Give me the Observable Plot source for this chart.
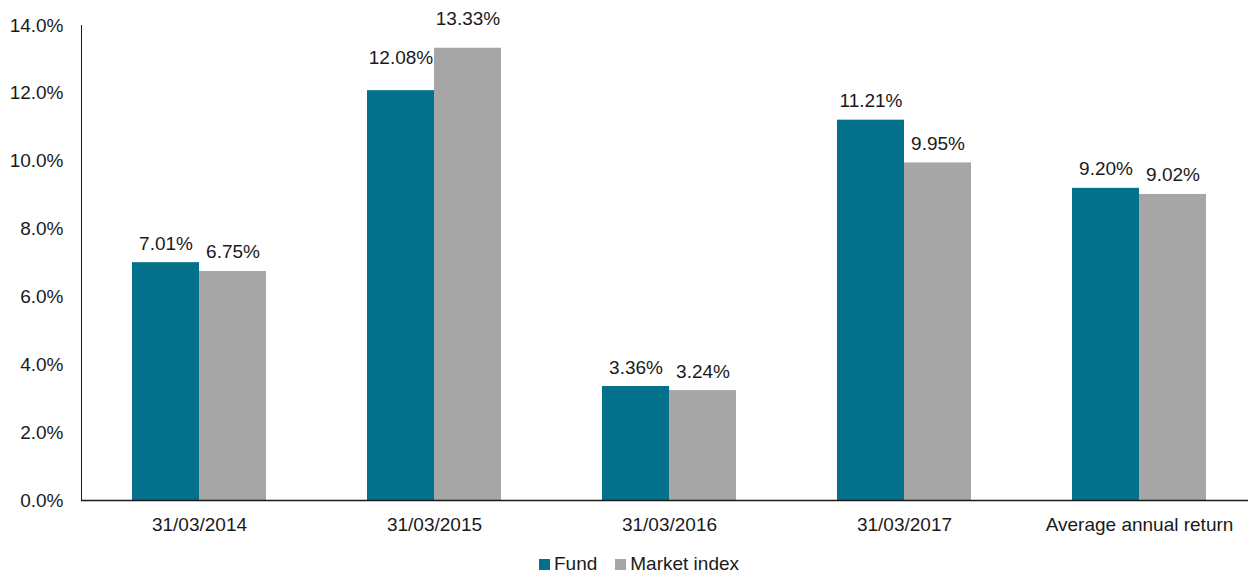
<!DOCTYPE html>
<html>
<head>
<meta charset="utf-8">
<script src="https://cdn.jsdelivr.net/npm/d3@7"></script>
<script src="https://cdn.jsdelivr.net/npm/@observablehq/plot@0.6"></script>
<style>
  body { margin: 0; background: #fff; font-family: "Liberation Sans", Arial, sans-serif; }
  #legend { display: flex; justify-content: center; align-items: center; height: 28px; padding-top: 5px; font-size: 19px; color: #1a1a1a; padding-left: 30px; }
  .item { display: flex; align-items: center; margin: 0 9px; }
  .sw { width: 11px; height: 11px; margin-right: 4px; }
</style>
</head>
<body>
<div id="chart"></div>
<script>
const categories = ["31/03/2014", "31/03/2015", "31/03/2016", "31/03/2017", "Average annual return"];
const series = ["Fund", "Market index"];
const fundValues = [7.01, 12.08, 3.36, 11.21, 9.20];
const marketValues = [6.75, 13.33, 3.24, 9.95, 9.02];
const yTicks = [0, 2, 4, 6, 8, 10, 12, 14];
const colors = ["#03718A", "#A6A6A6"];

const fund = categories.map((c, i) => ({category: c, value: fundValues[i]}));
const market = categories.map((c, i) => ({category: c, value: marketValues[i]}));
const fmt = d => d.toFixed(2) + "%";
const crowded = d => d.category === categories[1];

const plot = Plot.plot({
  width: 1248,
  height: 545,
  marginLeft: 81,
  marginRight: 0,
  marginTop: 25,
  marginBottom: 45,
  style: {fontFamily: "'Liberation Sans', Arial, sans-serif", fontSize: "19px", color: "#1a1a1a", background: "#fff"},
  x: {domain: categories, range: [81, 1256], paddingInner: 0.43, paddingOuter: 0.215, label: null},
  y: {domain: [0, 14], label: null},
  marks: [
    Plot.barY(fund, {x: "category", y: "value", fill: colors[0], insetRight: 67}),
    Plot.barY(market, {x: "category", y: "value", fill: colors[1], insetLeft: 67}),
    Plot.text(fund, {filter: d => !crowded(d), x: "category", y: "value", text: d => fmt(d.value), dx: -33.5, dy: -13, lineAnchor: "bottom", fill: "#1a1a1a"}),
    Plot.text(market, {filter: d => !crowded(d), x: "category", y: "value", text: d => fmt(d.value), dx: 33.5, dy: -13, lineAnchor: "bottom", fill: "#1a1a1a"}),
    Plot.text(fund, {filter: crowded, x: "category", y: "value", text: d => fmt(d.value), dx: -33.5, dy: -27, lineAnchor: "bottom", fill: "#1a1a1a"}),
    Plot.text(market, {filter: crowded, x: "category", y: "value", text: d => fmt(d.value), dx: 33.5, dy: -23, lineAnchor: "bottom", fill: "#1a1a1a"}),
    Plot.axisY({ticks: yTicks, tickFormat: d => d.toFixed(1) + "%", tickSize: 0, tickPadding: 18, label: null}),
    Plot.axisX({tickSize: 0, tickPadding: 17, label: null}),
    Plot.frame({anchor: "left", stroke: "#1a1a1a"}),
    Plot.ruleY([0], {stroke: "#1a1a1a", strokeWidth: 1.5})
  ]
});
document.getElementById("chart").appendChild(plot);

const legend = document.createElement("div");
legend.id = "legend";
series.forEach((s, i) => {
  const item = document.createElement("div");
  item.className = "item";
  const sw = document.createElement("span");
  sw.className = "sw";
  sw.style.background = colors[i];
  const t = document.createElement("span");
  t.textContent = s;
  item.appendChild(sw);
  item.appendChild(t);
  legend.appendChild(item);
});
document.body.appendChild(legend);
</script>
</body>
</html>
